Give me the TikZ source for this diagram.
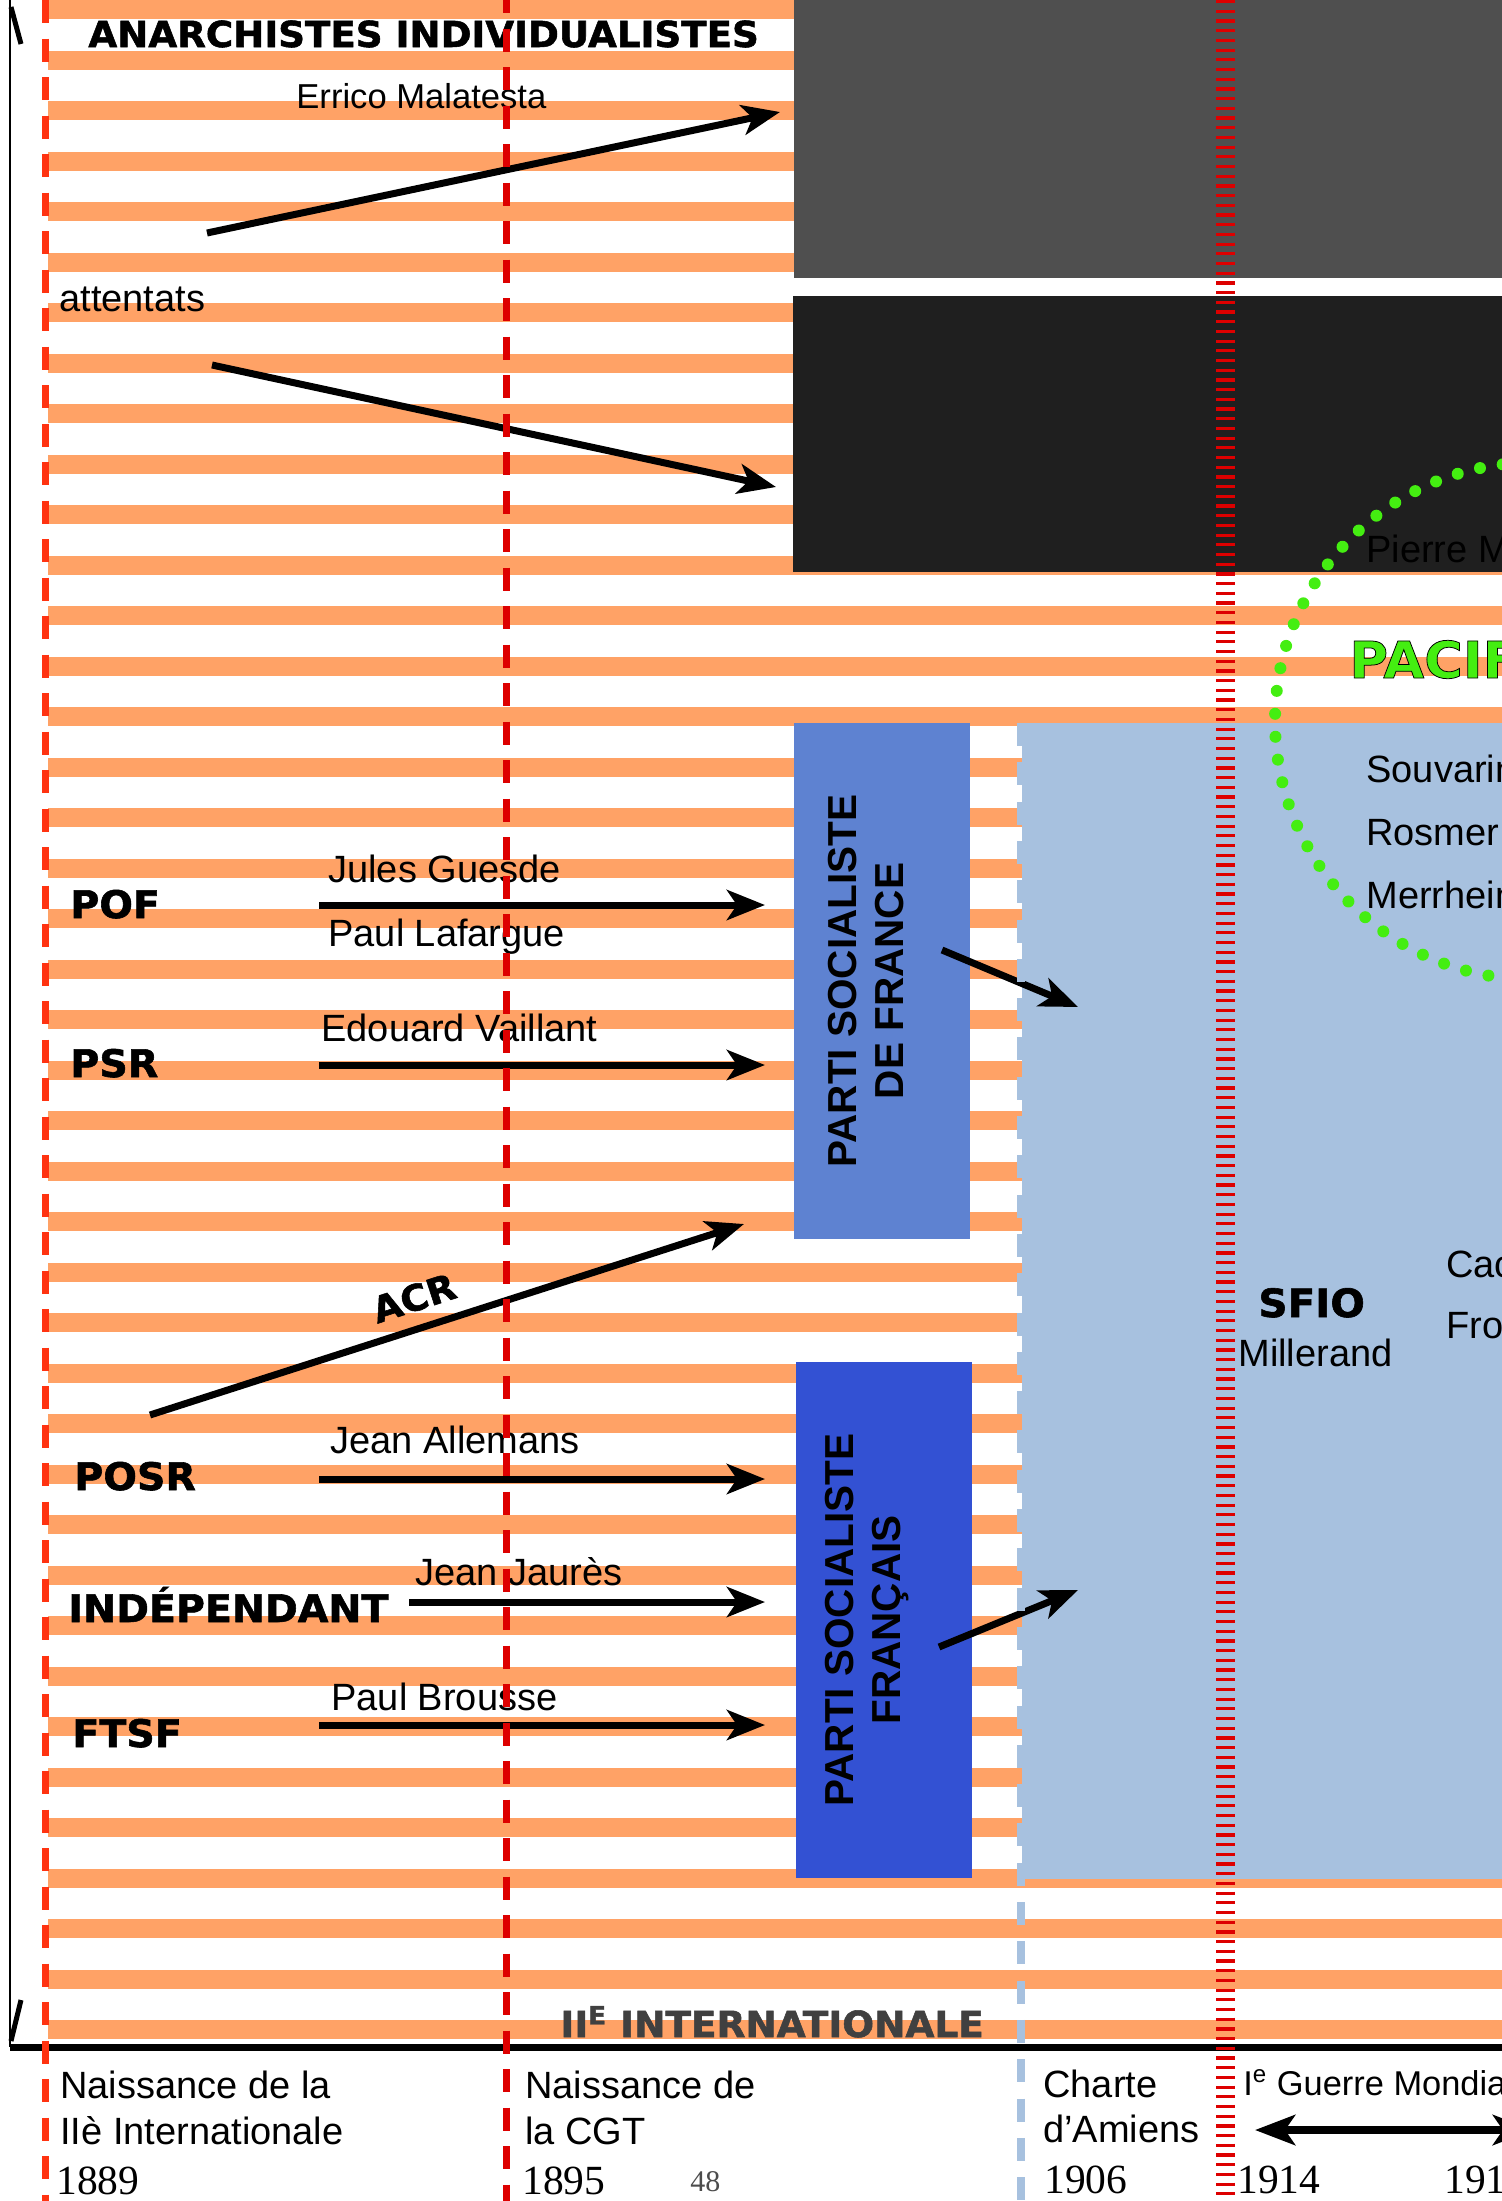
\documentclass[tikz,border=0pt]{standalone}
\usepackage{fontspec}
\setmainfont{Liberation Sans}
\newfontfamily\lourde{DejaVu Sans Bold}[FakeBold=1.5,FakeStretch=1.04]
\newfontfamily\serifan{Liberation Serif}
\usetikzlibrary{arrows.meta}

\definecolor{bande}{RGB}{255,162,102}
\definecolor{grisboite}{RGB}{79,79,79}
\definecolor{noirboite}{RGB}{31,31,31}
\definecolor{bleusfio}{RGB}{167,193,223}
\definecolor{bleupsf}{RGB}{94,130,209}
\definecolor{bleupsfr}{RGB}{51,81,211}
\definecolor{rougeA}{RGB}{255,51,17}
\definecolor{rougeB}{RGB}{221,0,0}
\definecolor{vertpacif}{RGB}{68,238,17}
\definecolor{grisinter}{RGB}{64,64,64}

% texte plein vert avec contour noir
\newcommand{\contourne}[1]{\special{pdf:code 0 0 0 RG 3 w 2 Tr}#1\special{pdf:code 0 Tr}}

\begin{document}
\begin{tikzpicture}[x=0.5pt,y=-0.5pt,
  nom/.style={anchor=base west,inner sep=0pt,font=\fontsize{19}{23}\selectfont},
  parti/.style={anchor=base west,inner sep=0pt,font=\lourde\fontsize{19}{23}\selectfont},
  annee/.style={anchor=base west,inner sep=0pt,font=\serifan\fontsize{20.75}{24}\selectfont},
  fleche/.style={line width=3.5pt,-{Stealth[length=19pt,width=15pt,inset=5pt]}}]
  \tikzstyle{boite}=[rotate=90,minimum width=258pt,minimum height=88pt,inner sep=0pt]
  \tikzstyle{titreboite}=[rotate=90,align=center,inner sep=0pt,font=\bfseries\fontsize{20.25}{23.5}\selectfont]
  \tikzstyle{pacif}=[anchor=base west,inner sep=0pt,font=\lourde\fontsize{25.4}{30}\selectfont]

  \useasboundingbox (0,0) rectangle (1502,2201);
  \clip (0,0) rectangle (1502,2201);

  \foreach \k in {0,...,40}
    \fill[bande] (48,50.5*\k) rectangle (1502,50.5*\k+19);

  \fill[grisboite] (794,0) rectangle (1502,278);
  \fill[noirboite] (793,296) rectangle (1502,572);
  \fill[bleusfio] (1022,723) rectangle (1502,1879);
  \node[boite,fill=bleupsf] (psf) at (882,980.5) {};
  \node[boite,fill=bleupsfr] (psfr) at (883.5,1619.5) {};
  \node[titreboite] (psf_t) at (866,981) {PARTI SOCIALISTE\\DE FRANCE};
  \node[titreboite] (psfr_t) at (867,1620) {PARTI SOCIALISTE\\FRANÇAIS};

  \draw[vertpacif,line width=6pt,line cap=round,dash pattern=on 0pt off 11.5pt]
    (1533.5,721) circle[radius=129.25pt];

  \node[parti,font=\lourde\fontsize{17.9}{21}\selectfont] (anarch) at (88,47) {ANARCHISTES INDIVIDUALISTES};
  \node[nom,font=\fontsize{17.3}{21}\selectfont] (malatesta) at (296,108) {Errico Malatesta};
  \node[nom] (attentats) at (59,311) {attentats};
  \coordinate (mal_a) at (207,233);
  \coordinate (mal_b) at (780,112);
  \coordinate (att_a) at (212,365);
  \coordinate (att_b) at (776,487);
  \draw[fleche] (mal_a) -- (mal_b);
  \draw[fleche] (att_a) -- (att_b);

  \node[nom] (monatte) at (1366,562) {Pierre Monatte};
  \node[pacif,text=vertpacif] (pacif) at (1349,678) {\contourne{PACIFISTES}};
  \node[nom] (souvarine) at (1366,782) {Souvarine};
  \node[nom] (rosmer) at (1366,845) {Rosmer};
  \node[nom] (merrheim) at (1366,908) {Merrheim};

  \node[parti] (pof) at (70,918) {POF};
  \node[nom] (guesde) at (328,882) {Jules Guesde};
  \node[nom] (lafargue) at (328,946) {Paul Lafargue};
  \node[parti] (psr) at (70,1077) {PSR};
  \node[nom] (vaillant) at (321,1041) {Edouard Vaillant};
  \coordinate (pof_a) at (319,905);
  \coordinate (pof_b) at (765,905);
  \coordinate (psr_a) at (319,1065);
  \coordinate (psr_b) at (765,1065);
  \draw[fleche] (pof_a) -- (pof_b);
  \draw[fleche] (psr_a) -- (psr_b);

  \coordinate (acr_a) at (150,1415);
  \coordinate (acr_b) at (744,1224);
  \draw[fleche] (acr_a) -- (acr_b);
  \node[inner sep=0pt,rotate=18,font=\lourde\fontsize{18}{21}\selectfont] (acr) at (414,1298) {ACR};

  \node[parti] (posr) at (74,1490) {POSR};
  \node[nom] (allemane) at (330,1453) {Jean Allemans};
  \node[parti] (indep) at (68,1622) {INDÉPENDANT};
  \node[nom] (jaures) at (415,1585) {Jean Jaurès};
  \node[parti] (ftsf) at (72,1747) {FTSF};
  \node[nom] (brousse) at (331,1710) {Paul Brousse};
  \coordinate (posr_a) at (319,1479);
  \coordinate (posr_b) at (765,1479);
  \coordinate (indep_a) at (409,1602);
  \coordinate (indep_b) at (765,1602);
  \coordinate (ftsf_a) at (319,1725);
  \coordinate (ftsf_b) at (765,1725);
  \draw[fleche] (posr_a) -- (posr_b);
  \draw[fleche] (indep_a) -- (indep_b);
  \draw[fleche] (ftsf_a) -- (ftsf_b);

  \coordinate (psf_a) at (942,950);
  \coordinate (psf_b) at (1078,1007);
  \coordinate (psfr_a) at (939,1647);
  \coordinate (psfr_b) at (1078,1590);
  \draw[fleche] (psf_a) -- (psf_b);
  \draw[fleche] (psfr_a) -- (psfr_b);

  \node[parti,font=\lourde\fontsize{19.5}{23}\selectfont] (sfio) at (1258,1317) {SFIO};
  \node[nom] (millerand) at (1238,1366) {Millerand};
  \node[nom] (cachin) at (1446,1277) {Cachin};
  \node[nom] (frossard) at (1446,1338) {Frossard};

  \node[parti,text=grisinter,font=\lourde\fontsize{18}{22}\selectfont] (inter) at (560,2037) {II\textsuperscript{E} INTERNATIONALE};

  % axe du temps
  \coordinate (axe_h) at (10,0);
  \coordinate (axe_b) at (10,2047);
  \coordinate (axe_d) at (1502,2047);
  \draw[line width=1pt] (axe_h) -- (axe_b);
  \draw[line width=3.5pt] (axe_b) -- (axe_d);
  \coordinate (m1a) at (11,7);
  \coordinate (m1b) at (21,44);
  \coordinate (m2a) at (21,2000);
  \coordinate (m2b) at (11,2041);
  \draw[line width=2.5pt] (m1a) -- (m1b);
  \draw[line width=2.5pt] (m2a) -- (m2b);

  \node[nom] (n1a) at (60,2098) {Naissance de la};
  \node[nom] (n1b) at (60,2144) {IIè Internationale};
  \node[annee] (n1c) at (56,2194) {1889};
  \node[nom] (n2a) at (525,2098) {Naissance de};
  \node[nom] (n2b) at (525,2144) {la CGT};
  \node[annee] (n2c) at (522,2194) {1895};
  \node[anchor=base west,inner sep=0pt,text=black!70,font=\serifan\fontsize{15}{18}\selectfont] (page) at (690,2191) {48};
  \node[nom] (n3a) at (1043,2097) {Charte};
  \node[nom] (n3b) at (1043,2142) {d’Amiens};
  \node[annee] (n3c) at (1044,2193) {1906};
  \node[nom,font=\fontsize{17.2}{21}\selectfont] (n4a) at (1243,2095) {I\textsuperscript{e} Guerre Mondiale};
  \node[annee] (n4c) at (1237,2193) {1914};
  \node[annee] (n5c) at (1444,2193) {1918};
  \coordinate (guerre_a) at (1255,2130);
  \coordinate (guerre_b) at (1533,2130);
  \draw[line width=4pt,{Stealth[length=20pt,width=15pt,inset=5pt]}-{Stealth[length=20pt,width=15pt,inset=5pt]}] (guerre_a) -- (guerre_b);

  % lignes des dates
  \draw[rougeA,line width=3.5pt,dash pattern=on 11.5pt off 7.75pt] (45,0) -- (45,2201);
  \draw[rougeB,line width=3.5pt,dash pattern=on 11.5pt off 7.75pt,dash phase=5pt] (506,0) -- (506,2201);
  \draw[bleusfio,line width=4pt,dash pattern=on 11.5pt off 8.15pt] (1021,723) -- (1021,2201);
  \draw[rougeB,line width=9.5pt,dash pattern=on 1.6pt off 3.25pt] (1225.5,0) -- (1225.5,2201);
\end{tikzpicture}
\end{document}
